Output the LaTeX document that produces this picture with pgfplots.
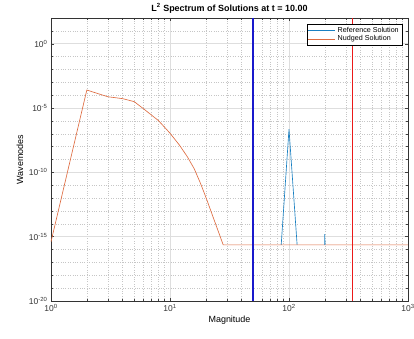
\documentclass[border=0pt]{standalone}
\usepackage{pgfplots}
\pgfplotsset{compat=1.18}
\usepackage{fontspec}
\setmainfont{Liberation Sans}
\definecolor{mblue}{rgb}{0.1,0.5,0.76}
\definecolor{morange}{rgb}{0.87,0.42,0.25}
\definecolor{gridgray}{rgb}{0.87,0.87,0.87}
\definecolor{vblue}{rgb}{0.1,0.1,0.8}
\definecolor{vred}{rgb}{0.92,0.1,0.1}
\begin{document}
\begin{tikzpicture}
\begin{axis}[
  at={(0,0)}, anchor=south west,
  scale only axis, width=357bp, height=283bp,
  xmode=log, ymode=log,
  xmin=1, xmax=1000, ymin=1e-20, ymax=1e2,
  xtick={1,10,100,1000},
  xticklabels={10\textsuperscript{0},10\textsuperscript{1},10\textsuperscript{2},10\textsuperscript{3}},
  minor xtick={2,3,4,5,6,7,8,9,20,30,40,50,60,70,80,90,200,300,400,500,600,700,800,900},
  ytick={1e-20,1e-15,1e-10,1e-5,1},
  yticklabels={10\textsuperscript{-20},10\textsuperscript{-15},10\textsuperscript{-10},10\textsuperscript{-5},10\textsuperscript{0}},
  minor ytick={1e-19,1e-18,1e-17,1e-16,1e-14,1e-13,1e-12,1e-11,1e-9,1e-8,1e-7,1e-6,1e-4,1e-3,1e-2,1e-1,1e1},
  grid=both,
  major grid style={gridgray, line width=0.5pt},
  minor grid style={gray!45, dotted, line width=0.5pt},
  tick align=inside,
  major tick length=3.5bp, minor tick length=2bp,
  tick style={black!75, line width=0.4pt},
  axis line style={black!80, line width=0.5pt},
  ticklabel style={font=\fontsize{8.5}{9}\selectfont, text=black!80},
  xlabel={Magnitude}, ylabel={Wavemodes},
  label style={font=\fontsize{9}{10}\selectfont},
  xlabel style={yshift=2bp},
  ylabel style={yshift=-1bp},
  title={\textbf{L\textsuperscript{2} Spectrum of Solutions at t = 10.00}},
  title style={font=\fontsize{9}{10}\selectfont, yshift=-4.5bp},
  legend style={at={(0.983,0.978)}, anchor=north east, font=\fontsize{7.2}{8}\selectfont,
    draw=black, line width=0.4pt, inner sep=1pt, row sep=-2.5pt},
  legend image code/.code={\draw[#1] (0cm,0cm) -- (0.95cm,0cm);},
  legend cell align=left,
  clip=true,
]
\addplot[mblue, line width=0.65pt] coordinates {
 (86,2.3e-16) (100,2.3e-7) (117,2.3e-16)
};
\addlegendentry{Reference Solution}
\addplot[morange, line width=0.65pt] coordinates {
 (1,4e-16) (2,2.51e-4) (3,7.59e-5) (4,5.37e-5) (5,3.16e-5) (6,8.7e-6) (7,2.82e-6) (8,1.05e-6)
 (9,3.24e-7) (10,1.1e-7) (12,1.32e-8) (14,1.62e-9) (16,1.86e-10) (18,1.48e-11) (20,1.2e-12)
 (28,2.3e-16) (1000,2.3e-16)
};
\addlegendentry{Nudged Solution}
\addplot[mblue, line width=0.65pt, forget plot] coordinates {
 (199.3,2.3e-16) (200,1.6e-15) (200.7,2.3e-16)
};
\addplot[vblue, line width=1.5pt, forget plot] coordinates {(50,1e-20) (50,1e2)};
\addplot[vred, line width=1.5pt, forget plot] coordinates {(341,1e-20) (341,1e2)};
\end{axis}
\pgfresetboundingbox
\path[use as bounding box] (-51bp,-38bp) rectangle (363bp,301bp);
\end{tikzpicture}
\end{document}
